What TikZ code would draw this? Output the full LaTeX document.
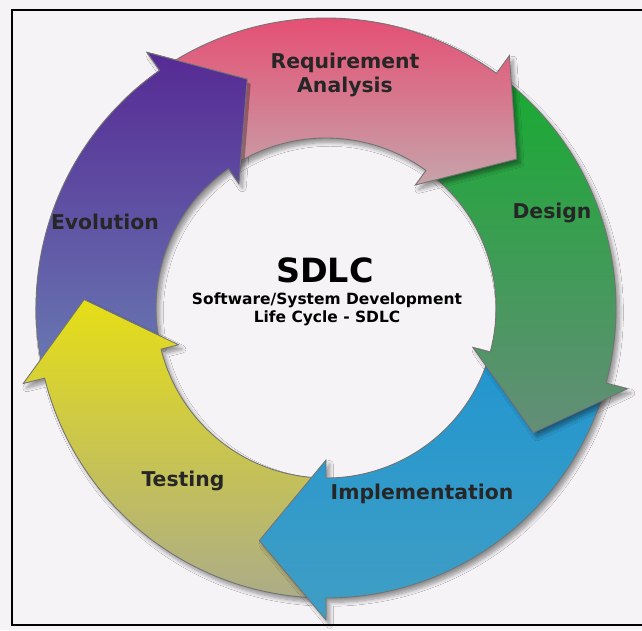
\documentclass[tikz,border=0pt]{standalone}
\usepackage{fontspec}
\setmainfont{DejaVu Sans}
\usetikzlibrary{shadows.blur}

\definecolor{paper}{RGB}{245,243,245}
\definecolor{reqA}{RGB}{232,70,110}   \definecolor{reqB}{RGB}{198,164,170}
\definecolor{desA}{RGB}{24,170,50}    \definecolor{desB}{RGB}{100,142,120}
\definecolor{impA}{RGB}{34,150,208}   \definecolor{impB}{RGB}{64,158,196}
\definecolor{tesA}{RGB}{230,222,22}   \definecolor{tesB}{RGB}{172,172,136}
\definecolor{evoA}{RGB}{86,42,148}    \definecolor{evoB}{RGB}{104,120,178}

\tikzset{
	phase/.style={draw=black!55, line width=.5pt},
	shade/.style={blur shadow={shadow xshift=2pt, shadow yshift=-2.5pt, shadow opacity=40, shadow blur steps=8}},
	lbl/.style={font=\bfseries\fontsize{11.6}{14}\selectfont, text=black!85, align=center}
}

% curved block arrow: #1 tail angle, #2 angle of the barbs
\newcommand\phasepath[2]{(#1:290) arc[start angle=#1, end angle=#2, radius=290] -- (#2:312) -- ({#2-16}:242)
	-- (#2:152) -- (#2:170) arc[start angle=#2, end angle=#1, radius=170] -- cycle}

\begin{document}
\begin{tikzpicture}[x=.02cm, y=.02cm]
	\useasboundingbox[fill=paper] (-326,-322) rectangle (316,308);
	\draw[line width=1.4pt] (330,298) -- (-314,298) -- (-314,-317) -- (330,-317);

	% drawn backwards so that each head lies on the next tail
	\path[phase, shade, top color=evoA, bottom color=evoB] \phasepath{192}{125};
	\path[phase, shade, top color=tesA, bottom color=tesB] \phasepath{268}{194};
	\path[phase, shade, top color=impA, bottom color=impB] \phasepath{-17}{-90};
	\path[phase, shade, top color=desA, bottom color=desB] \phasepath{52}{-15};
	\path[phase, shade, top color=reqA, bottom color=reqB] \phasepath{123}{54};
	% evolution head over the requirement tail, with its shadow
	\begin{scope}
		\clip \phasepath{123}{54};
		\fill[black, opacity=.3, xshift=2pt, yshift=-2.5pt] (125:312) -- (109:242) -- (125:152) -- cycle;
	\end{scope}
	\begin{scope}
		\clip (0,0) -- (100:340) arc[start angle=100, end angle=135, radius=340] -- cycle;
		\path[phase, top color=evoA, bottom color=evoB] \phasepath{192}{125};
	\end{scope}

	\node[lbl] (req) at (19,233) {Requirement\\Analysis};
	\node[lbl] (design) at (226,95) {Design};
	\node[lbl] (impl) at (96,-186) {Implementation};
	\node[lbl] (test) at (-143,-173) {Testing};
	\node[lbl] (evol) at (-221,86) {Evolution};

	\node[font=\bfseries\fontsize{19}{21}\selectfont] (sdlc) at (-1,38) {SDLC};
	\node[font=\bfseries\fontsize{8.8}{10.4}\selectfont, align=center] (full) at (1,-1) {Software/System Development\\Life Cycle - SDLC};
\end{tikzpicture}
\end{document}
